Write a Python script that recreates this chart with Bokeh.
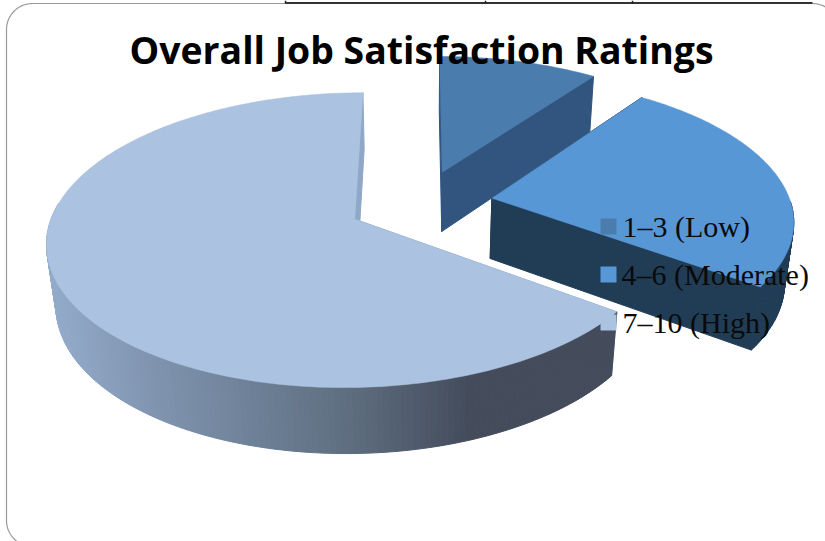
import numpy as np
from bokeh.core.properties import value
from bokeh.embed import file_html
from bokeh.models import Range1d
from bokeh.plotting import figure
from bokeh.resources import INLINE

TITLE = "Overall Job Satisfaction Ratings"
categories = ["1–3 (Low)", "4–6 (Moderate)", "7–10 (High)"]
shares = [10, 25, 65]
top_colors = ["#4a7cae", "#5897d5", "#abc2e0"]
wall_colors = ["#31557f", "#213d56", None]

W, H = 825, 541

# Perspective camera for the tilted, exploded pie (all lengths in page pixels).
CX, CY = 420, 203
RX, RY = 299, 140
DEPTH = 62
TILT = 0.14
SINK = 0.025
EXPLODE = 0.243

# Horizontal shading of the large slice's outer wall.
SHADE_X = [50, 150, 340, 470, 615]
SHADE_R = [0x93, 0x80, 0x60, 0x44, 0x45]
SHADE_G = [0xab, 0x94, 0x70, 0x4c, 0x4c]
SHADE_B = [0xca, 0xb0, 0x82, 0x5c, 0x5c]


def project(x, y, z=0.0):
    """Map pie-plane coordinates (z=0 top face, z=1 bottom face) to the page."""
    x, y = np.asarray(x, float), np.asarray(y, float)
    w = 1 + TILT * y + SINK * z
    return CX + RX * x / w, CY + (-RY * y + DEPTH * z) / w


def shade(u):
    r = np.interp(u, SHADE_X, SHADE_R)
    g = np.interp(u, SHADE_X, SHADE_G)
    b = np.interp(u, SHADE_X, SHADE_B)
    return "#%02x%02x%02x" % (int(r), int(g), int(b))


p = figure(width=W, height=H, output_backend="svg", toolbar_location=None,
           x_range=Range1d(0, W), y_range=Range1d(H, 0), min_border=0,
           outline_line_color=None, background_fill_color="white")
p.axis.visible = False
p.grid.visible = False


def frame_outline():
    # Rounded slide border, running slightly past the page on the right and bottom.
    left, top, right, bottom, rad = 6, 3, 838, 546, 26
    t = np.linspace(0, np.pi / 2, 24)
    xs = np.r_[left + rad - rad * np.cos(t), right - rad + rad * np.sin(t),
               right - rad + rad * np.cos(t), left + rad - rad * np.sin(t), left]
    ys = np.r_[top + rad - rad * np.sin(t), top + rad - rad * np.cos(t),
               bottom - rad + rad * np.sin(t), bottom - rad + rad * np.cos(t), top + rad]
    return xs, ys


fx, fy = frame_outline()
p.line(fx, fy, line_color="#9a9a9a", line_width=1.2)
# Table rule running off the top of the slide.
p.line([285, 812], [2.5, 2.5], line_color="#333333", line_width=2)
p.segment([285, 485, 632], [0, 0, 0], [285, 485, 632], [3, 3, 3],
          line_color="#222222", line_width=1.5)

total = sum(shares)
start = 0.0
for share, top_col, wall_col in zip(shares, top_colors, wall_colors):
    end = start + 2 * np.pi * share / total
    mid = (start + end) / 2
    ox, oy = EXPLODE * np.sin(mid), EXPLODE * np.cos(mid)
    th = np.linspace(start, end, int(share * 3.6) + 2)
    rx, ry = ox + np.sin(th), oy + np.cos(th)

    xs, ys, cols = [], [], []
    # Cut walls on both straight edges of the slice.
    for a in (start, end):
        ex, ey = ox + np.sin(a), oy + np.cos(a)
        u0, v0 = project([ox, ex], [oy, ey], 0)
        u1, v1 = project([ex, ox], [ey, oy], 1)
        xs.append(np.r_[u0, u1])
        ys.append(np.r_[v0, v1])
        cols.append(wall_col or "#8fa8c8")
    # Outer curved wall, one narrow strip per step, only on the camera side.
    for i in range(len(th) - 1):
        if ry[i:i + 2].min() > 0:
            continue
        u0, v0 = project(rx[i:i + 2], ry[i:i + 2], 0)
        u1, v1 = project(rx[i:i + 2][::-1], ry[i:i + 2][::-1], 1)
        xs.append(np.r_[u0, u1])
        ys.append(np.r_[v0, v1])
        cols.append(wall_col or shade(u0.mean()))
    p.patches(xs, ys, fill_color=cols, line_color=cols, line_width=1.0)

    tu, tv = project(np.r_[ox, rx], np.r_[oy, ry], 0)
    p.patch(tu, tv, fill_color=top_col, line_color=top_col, line_width=0.5)
    start = end

# Legend entries sit directly on the chart.
legend_x = [608, 608, 608]
legend_y = [226, 274, 322]
legend_text_x = [622, 621, 622]
legend_base = [226, 274, 322]
p.rect(legend_x, legend_y, width=16, height=16, fill_color=top_colors, line_color=None)
p.text(legend_text_x, legend_base, text=categories, text_font=value("Liberation Serif"),
       text_font_size="30px", text_color="#0a0a0a", text_align="left", text_baseline="alphabetic")

p.text([421], [49], text=[TITLE], text_font=value("Open Sans"), text_font_style="bold",
       text_font_size="37.4px", text_color="#000000", text_align="center", text_baseline="alphabetic")

open("out.html", "w").write(file_html(p, INLINE))
